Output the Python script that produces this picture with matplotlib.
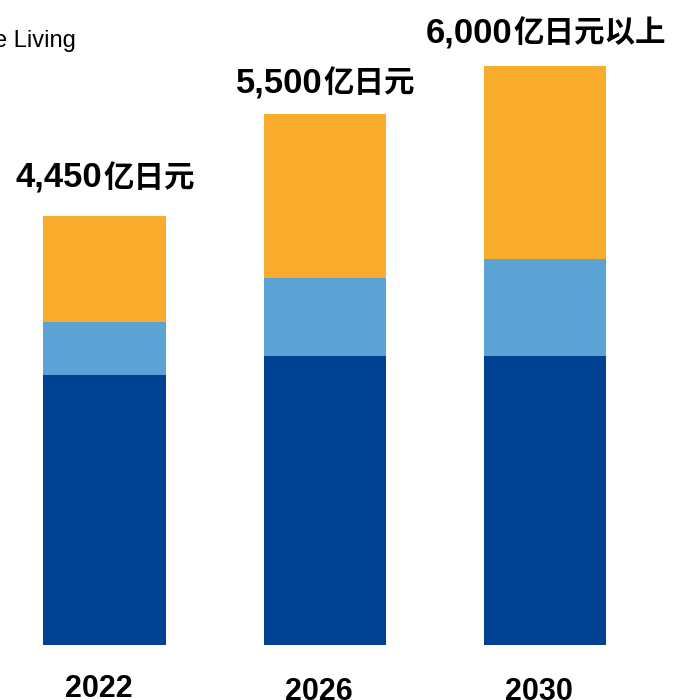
import matplotlib.pyplot as plt
from matplotlib.transforms import ScaledTranslation

years = ['2022', '2026', '2030']
amounts = ['4,450', '5,500', '6,000']
units = ['亿日元', '亿日元', '亿日元以上']
base = [2800, 3000, 3000]      # dark blue segment
middle = [550, 800, 1000]      # light blue segment
top = [1100, 1700, 2000]       # orange segment

dark = '#004192'
light = '#5BA3D4'
orange = '#F9AC2B'

fig = plt.figure(figsize=(6.78, 7.00), dpi=100)
ax = fig.add_axes([0, 55 / 700, 1, 645 / 700])

x = range(len(years))
w = 0.556
ax.bar(x, base, width=w, color=dark)
ax.bar(x, middle, width=w, bottom=base, color=light)
bottom3 = [b + m for b, m in zip(base, middle)]
ax.bar(x, top, width=w, bottom=bottom3, color=orange)

ax.set_xlim(-0.4746, 2.604)
ax.set_ylim(0, 6684)
ax.axis('off')

# value labels: bold number + CJK unit, centred together over each bar
totals = [b + m + t for b, m, t in zip(base, middle, top)]
gaps = [29, 22, 24]  # px between bar top and text baseline
upp = 6684 / 645     # data units per pixel
renderer = fig.canvas.get_renderer()
for i, (tot, num, unit) in enumerate(zip(totals, amounts, units)):
    y = tot + gaps[i] * upp
    t1 = ax.text(i, y, num, ha='left', va='baseline', fontsize=25,
                 fontweight='bold', family='Liberation Sans')
    t2 = ax.text(i, y, unit, ha='left', va='baseline', fontsize=22,
                 fontweight='bold', family='Noto Sans CJK SC')
    w1 = t1.get_window_extent(renderer).width
    w2 = t2.get_window_extent(renderer).width
    start = -(w1 + w2) / 2
    t1.set_transform(ax.transData + ScaledTranslation(start / fig.dpi, 0, fig.dpi_scale_trans))
    t2.set_transform(ax.transData + ScaledTranslation((start + w1 + 1) / fig.dpi, 0, fig.dpi_scale_trans))

for i, yr in enumerate(years):
    ax.text(i - 0.027, -460 if i == 0 else -485, yr, ha='center', va='center',
            fontsize=22, fontweight='bold', family='Liberation Sans', clip_on=False)

fig.text(-0.009, 1 - 41 / 700, 'e Living', ha='left', va='center',
         fontsize=17, family='Liberation Sans')

fig.savefig('out.png', dpi=100)
